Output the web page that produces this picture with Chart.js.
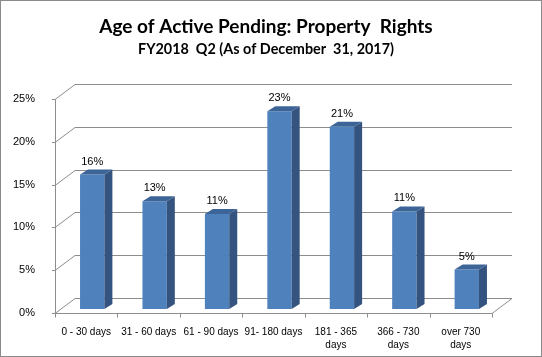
<!DOCTYPE html>
<html>
<head>
<meta charset="utf-8">
<script src="https://cdn.jsdelivr.net/npm/chart.js@4.4.1/dist/chart.umd.min.js"></script>
<style>
  html, body { margin: 0; padding: 0; background: #ffffff; }
  #wrap { width: 542px; height: 357px; position: relative; }
</style>
</head>
<body>
<div id="wrap"><canvas id="c" width="542" height="357"></canvas></div>
<script>
const titleText = 'Age of Active Pending: Property  Rights';
const subtitleText = 'FY2018  Q2 (As of December  31, 2017)';
const categories = [
  '0 - 30 days',
  '31 - 60 days',
  '61 - 90 days',
  '91- 180 days',
  ['181 - 365', 'days'],
  ['366 - 730', 'days'],
  ['over 730', 'days']
];
const percentValues = [15.7, 12.6, 11.1, 23.1, 21.3, 11.4, 4.6];
const yTicks = [0, 5, 10, 15, 20, 25];

const DX = 20, DY = -15;      // depth of the 3D floor/wall
const BX = 6, BY = -4;        // bar placement inside the depth
const SX = 8, SY = -5;        // bar own depth
const gridColor = '#8c8c8c';

const threeD = {
  id: 'threeD',
  beforeDatasetsDraw(chart) {
    const { ctx, chartArea: a, scales: { x, y } } = chart;
    ctx.save();
    ctx.strokeStyle = gridColor;
    ctx.lineWidth = 1;
    yTicks.forEach(v => {
      const py = Math.round(y.getPixelForValue(v)) + 0.5;
      ctx.beginPath();
      ctx.moveTo(a.left, py);
      ctx.lineTo(a.left + DX, py + DY);
      ctx.lineTo(a.right + DX, py + DY);
      ctx.stroke();
      ctx.beginPath();
      ctx.moveTo(a.left - 3, py);
      ctx.lineTo(a.left, py);
      ctx.stroke();
    });
    const lx = Math.round(a.left) + 0.5;
    const by = Math.round(a.bottom) + 0.5;
    ctx.beginPath();
    ctx.moveTo(lx, Math.round(y.getPixelForValue(25)) + 0.5);
    ctx.lineTo(lx, by);
    ctx.stroke();
    ctx.beginPath();
    ctx.moveTo(a.left, by);
    ctx.lineTo(a.right, by);
    ctx.lineTo(a.right + DX, by + DY);
    ctx.stroke();
    const n = categories.length;
    const w = (a.right - a.left) / n;
    for (let i = 0; i <= n; i++) {
      const tx = Math.round(a.left + i * w) + 0.5;
      ctx.beginPath();
      ctx.moveTo(tx, by);
      ctx.lineTo(tx, by + 4);
      ctx.stroke();
    }
    ctx.restore();
    ctx.save();
    ctx.translate(BX, BY);
  },
  afterDatasetsDraw(chart) {
    const { ctx } = chart;
    ctx.restore();
    const meta = chart.getDatasetMeta(0);
    ctx.save();
    meta.data.forEach((bar, i) => {
      const p = bar.getProps(['x', 'y', 'base', 'width'], true);
      const left = p.x - p.width / 2 + BX;
      const right = p.x + p.width / 2 + BX;
      const top = p.y + BY;
      const bottom = p.base + BY;
      ctx.fillStyle = '#34537e';
      ctx.beginPath();
      ctx.moveTo(right, top);
      ctx.lineTo(right + SX, top + SY);
      ctx.lineTo(right + SX, bottom + SY);
      ctx.lineTo(right, bottom);
      ctx.closePath();
      ctx.fill();
      ctx.fillStyle = '#3d6496';
      ctx.beginPath();
      ctx.moveTo(left, top);
      ctx.lineTo(left + SX, top + SY);
      ctx.lineTo(right + SX, top + SY);
      ctx.lineTo(right, top);
      ctx.closePath();
      ctx.fill();
      ctx.fillStyle = '#000000';
      ctx.font = '11px "Liberation Sans", Arial, sans-serif';
      ctx.textAlign = 'center';
      ctx.textBaseline = 'middle';
      ctx.fillText(Math.round(percentValues[i]) + '%', p.x + BX, top - 13);
    });
    ctx.restore();
  },
  afterDraw(chart) {
    const { ctx } = chart;
    ctx.save();
    ctx.strokeStyle = '#8a8a8a';
    ctx.lineWidth = 1;
    ctx.strokeRect(0.5, 0.5, 541, 356);
    ctx.restore();
  }
};

Chart.defaults.font.family = '"Liberation Sans", Arial, sans-serif';
Chart.defaults.color = '#000000';

new Chart(document.getElementById('c'), {
  type: 'bar',
  data: {
    labels: categories,
    datasets: [{
      data: percentValues,
      backgroundColor: '#4f81bd',
      borderWidth: 0,
      categoryPercentage: 1,
      barPercentage: 0.39,
      clip: false
    }]
  },
  options: {
    responsive: false,
    animation: false,
    events: [],
    layout: { padding: { top: 0, right: 10, bottom: 0, left: 0 } },
    plugins: {
      legend: { display: false },
      tooltip: { enabled: false },
      title: {
        display: true,
        text: titleText,
        color: '#000000',
        font: { family: 'Lato, sans-serif', size: 19, weight: 'bold', lineHeight: '22px' },
        padding: { top: 16, bottom: 0 }
      },
      subtitle: {
        display: true,
        text: subtitleText,
        color: '#000000',
        font: { family: 'Lato, sans-serif', size: 14.4, weight: 'bold', lineHeight: '16px' },
        padding: { top: 3, bottom: 42 }
      }
    },
    scales: {
      x: {
        grid: { display: false },
        border: { display: false },
        ticks: {
          font: { size: 10, lineHeight: '13px' },
          padding: 5,
          maxRotation: 0,
          autoSkip: false
        },
        afterFit(s) { s.height = 44; }
      },
      y: {
        min: 0,
        max: 25,
        grid: { display: false },
        border: { display: false },
        ticks: {
          stepSize: 5,
          font: { size: 11 },
          padding: 12,
          callback: v => v + '%'
        },
        afterFit(s) { s.width = 55; }
      },
      yRight: {
        position: 'right',
        display: true,
        min: 0,
        max: 25,
        grid: { display: false },
        border: { display: false },
        ticks: { display: false },
        afterFit(s) { s.width = 40; }
      }
    }
  },
  plugins: [threeD]
});
</script>
</body>
</html>
